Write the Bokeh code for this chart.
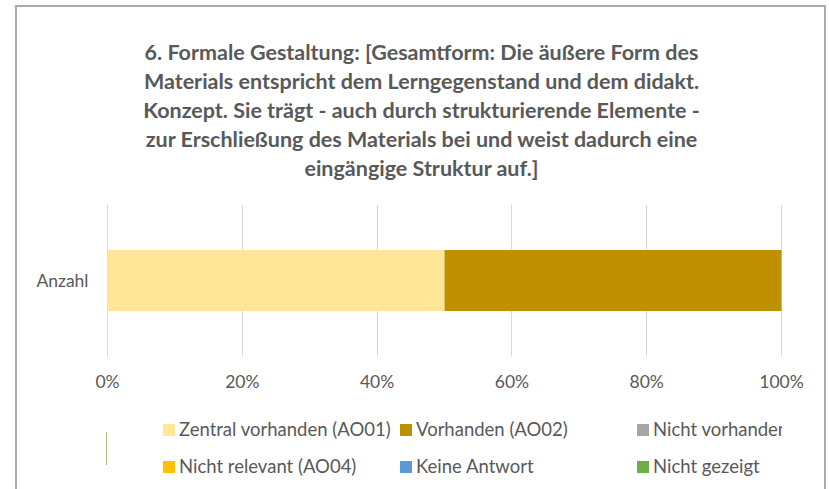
import glob
from bokeh.plotting import figure
from bokeh.layouts import column
from bokeh.models import (Range1d, FactorRange, NumeralTickFormatter, FixedTicker,
                          Legend, LegendItem, Title, ColumnDataSource)
from bokeh.embed import file_html
from bokeh.resources import INLINE

# ---- data ----
title_lines = [
    "6. Formale Gestaltung: [Gesamtform: Die äußere Form des",
    "Materials entspricht dem Lerngegenstand und dem didakt.",
    "Konzept. Sie trägt - auch durch strukturierende Elemente -",
    "zur Erschließung des Materials bei und weist dadurch eine",
    "eingängige Struktur auf.]",
]
categories = ["Anzahl"]
series = ["Zentral vorhanden (AO01)", "Vorhanden (AO02)", "Nicht vorhanden (AO03)",
          "Nicht relevant (AO04)", "Keine Antwort", "Nicht gezeigt"]
values = [0.5, 0.5, 0.0, 0.0, 0.0, 0.0]
colors = ["#FFE699", "#BF9000", "#A5A5A5", "#FFC000", "#5B9BD5", "#70AD47"]
x_ticks = [0, 0.2, 0.4, 0.6, 0.8, 1.0]

TEXT = "#595959"
FONT = "Lato"
TITLE_SIZE = 21.5

W, H1, H2 = 807, 400, 82
ML, MR, MT = 89, 42, 197
FH = 152
MB = H1 - MT - FH
TITLE_CENTER = 404  # canvas x of the title centre


def text_width(text, size):
    try:
        from PIL import ImageFont
        paths = glob.glob("/usr/share/fonts/**/Lato-Bold.ttf", recursive=True)
        font = ImageFont.truetype(paths[0], size)
        return font.getlength(text)
    except Exception:
        return None


src = ColumnDataSource({"cat": categories, **{s: [v] for s, v in zip(series, values)}})

# ---------------- main chart ----------------
p = figure(width=W, height=H1, output_backend="svg", toolbar_location=None,
           x_range=Range1d(-0.0015, 1.0015), y_range=FactorRange(factors=categories),
           title=None, min_border_left=ML, min_border_right=MR,
           min_border_top=MT, min_border_bottom=MB)
p.outline_line_color = None
p.background_fill_color = "white"
p.border_fill_color = "white"

p.add_layout(Title(text=" ", text_font_size="1px", standoff=20), "above")
for line in reversed(title_lines):
    w = text_width(line, TITLE_SIZE)
    kw = dict(align="center")
    if w is not None:
        kw = dict(align="left", offset=TITLE_CENTER - w / 2 - ML)
    t = Title(text=line, text_font=FONT, text_font_style="bold",
              text_font_size=f"{TITLE_SIZE}px", text_color=TEXT, standoff=1, **kw)
    p.add_layout(t, "above")

p.hbar_stack(series, y="cat", height=0.4, color=colors, source=src, line_color=None)

p.xaxis.ticker = FixedTicker(ticks=x_ticks)
p.xaxis.formatter = NumeralTickFormatter(format="0%")
for ax in (p.xaxis, p.yaxis):
    ax.axis_line_color = None
    ax.major_tick_line_color = None
    ax.minor_tick_line_color = None
    ax.major_tick_out = 0
    ax.major_label_text_font = FONT
    ax.major_label_text_font_size = "17.5px"
    ax.major_label_text_color = TEXT
p.xaxis.major_label_standoff = 14
p.yaxis.major_label_standoff = 18
p.xgrid.grid_line_color = "#D9D9D9"
p.xgrid.ticker = FixedTicker(ticks=x_ticks)
p.ygrid.grid_line_color = None

# ---------------- legend strip ----------------
q = figure(width=W, height=H2, output_backend="svg", toolbar_location=None,
           x_range=Range1d(2, 3), y_range=FactorRange(factors=categories),
           title=None, min_border=0, x_axis_location=None, y_axis_location=None)
q.outline_line_color = None
q.xgrid.grid_line_color = None
q.ygrid.grid_line_color = None
q.background_fill_color = "white"
q.border_fill_color = "white"
leg_renderers = q.hbar_stack(series, y="cat", height=0.4, color=colors, source=src,
                             line_color=None)

rows = [[0, 1, 2], [3, 4, 5]]
row_vy = [49, 12]
for idx, vy in zip(rows, row_vy):
    items = [LegendItem(label=series[i], renderers=[leg_renderers[i]]) for i in idx]
    lg = Legend(items=items, location=(55, vy), orientation="horizontal",
                padding=0, margin=0, spacing=0, glyph_width=15, glyph_height=15,
                label_height=15, label_width=219, label_standoff=3,
                border_line_color=None, background_fill_alpha=0,
                label_text_font=FONT, label_text_font_size="18.5px",
                label_text_color=TEXT)
    q.add_layout(lg, "center")

layout = column(p, q, spacing=0,
                styles={"margin-left": "15px", "margin-top": "5px",
                        "border-left": "2px solid #ABABAB",
                        "border-top": "2px solid #ABABAB",
                        "border-right": "2px solid #ABABAB"})

open("out.html", "w").write(file_html(layout, INLINE))
